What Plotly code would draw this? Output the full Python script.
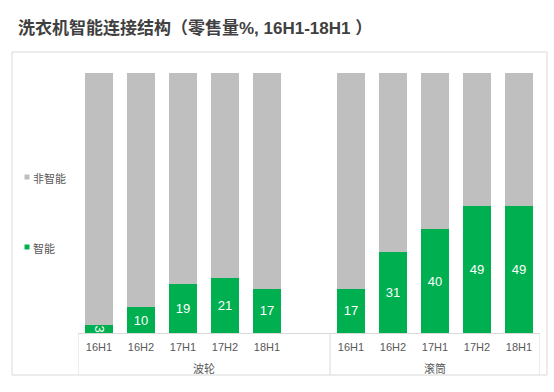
import plotly.graph_objects as go

title_text = "洗衣机智能连接结构（零售量%, 16H1-18H1 ）"
groups = ["波轮"] * 6 + ["滚筒"] * 5
periods = ["16H1", "16H2", "17H1", "17H2", "18H1", "",
           "16H1", "16H2", "17H1", "17H2", "18H1"]
smart = [3, 10, 19, 21, 17, None, 17, 31, 40, 49, 49]
non_smart = [97, 90, 81, 79, 83, None, 83, 69, 60, 51, 51]
name_smart = "智能"
name_non = "非智能"

GREEN = "#00B050"
GRAY = "#BFBFBF"
LINE = "#D9D9D9"
FONT = "Noto Sans CJK SC, Arial, sans-serif"
LATIN = "Arial, Liberation Sans, sans-serif"
TITLE_FONT = "Liberation Sans, Arial, Noto Sans CJK SC, sans-serif"

keys = [f"{g}|{p}" for g, p in zip(groups, periods)]

fig = go.Figure()
fig.add_trace(go.Bar(
    x=keys, y=smart, name=name_smart,
    marker=dict(color=GREEN, line=dict(width=0)),
    text=[("" if v is None else str(v)) for v in smart],
    textposition="inside", insidetextanchor="middle",
    constraintext="none",
    textfont=dict(color="white", size=13, family=LATIN),
    cliponaxis=False, showlegend=False,
))
fig.add_trace(go.Bar(
    x=keys, y=non_smart, name=name_non,
    marker=dict(color=GRAY, line=dict(width=0)),
    showlegend=False,
))

W, H = 554, 392
L, R, T, B = 78, 14, 73, 59
pw, ph = W - L - R, H - T - B

def px_x(v):
    return (v - L) / pw

def px_y(v):
    return (H - B - v) / ph

# group labels and dividers
group_names = []
for g in groups:
    if g not in group_names:
        group_names.append(g)
annotations = []
shapes = []
start = 0
for g in group_names:
    n = groups.count(g)
    annotations.append(dict(x=start + (n - 1) / 2, y=px_y(368), xref="x", yref="paper",
                            text=g, showarrow=False, yanchor="middle",
                            font=dict(family=FONT, size=11, color="#595959")))
    shapes.append(dict(type="line", xref="x", yref="paper", x0=start - 0.5, x1=start - 0.5,
                       y0=0, y1=px_y(375), line=dict(color=LINE, width=1)))
    start += n
shapes.append(dict(type="line", xref="x", yref="paper", x0=start - 0.5, x1=start - 0.5,
                   y0=0, y1=px_y(375), line=dict(color=LINE, width=1)))
shapes.append(dict(type="rect", xref="paper", yref="paper",
                   x0=px_x(12), x1=px_x(547), y0=px_y(375), y1=px_y(52),
                   line=dict(color=LINE, width=1), layer="below"))

# legend (marker + text) on the left
for name, color, yc in [(name_non, GRAY, 177), (name_smart, GREEN, 247)]:
    shapes.append(dict(type="rect", xref="paper", yref="paper",
                       x0=px_x(24.5), x1=px_x(29.5), y0=px_y(yc + 2.5), y1=px_y(yc - 2.5),
                       fillcolor=color, line=dict(width=0)))
    annotations.append(dict(x=px_x(31), y=px_y(yc + 1), xref="paper", yref="paper",
                            text=name, showarrow=False, xanchor="left", yanchor="middle",
                            font=dict(family=FONT, size=11, color="#595959")))

fig.update_layout(
    width=W, height=H,
    margin=dict(l=L, r=R, t=T, b=B, autoexpand=False),
    paper_bgcolor="white", plot_bgcolor="white",
    barmode="stack", bargap=1 - 28 / 42,
    showlegend=False,
    title=dict(text=title_text, x=18 / W, xanchor="left", y=1 - 28 / H, yanchor="middle",
               font=dict(family=TITLE_FONT, size=17, color="#404040", weight="bold")),
    font=dict(family=FONT, color="#595959", size=11),
    xaxis=dict(type="category", tickmode="array", tickvals=keys, ticktext=periods,
               showline=True, linecolor=LINE, linewidth=1,
               ticks="", showgrid=False, zeroline=False, ticklabelstandoff=4,
               tickfont=dict(family=LATIN, size=11, color="#595959"),
               range=[-0.5, len(keys) - 0.5]),
    yaxis=dict(range=[0, 100], visible=False, showgrid=False, zeroline=False),
    annotations=annotations,
    shapes=shapes,
)

fig.write_html("out.html", config={"displayModeBar": False},
               post_script="document.body.style.margin='0';")
